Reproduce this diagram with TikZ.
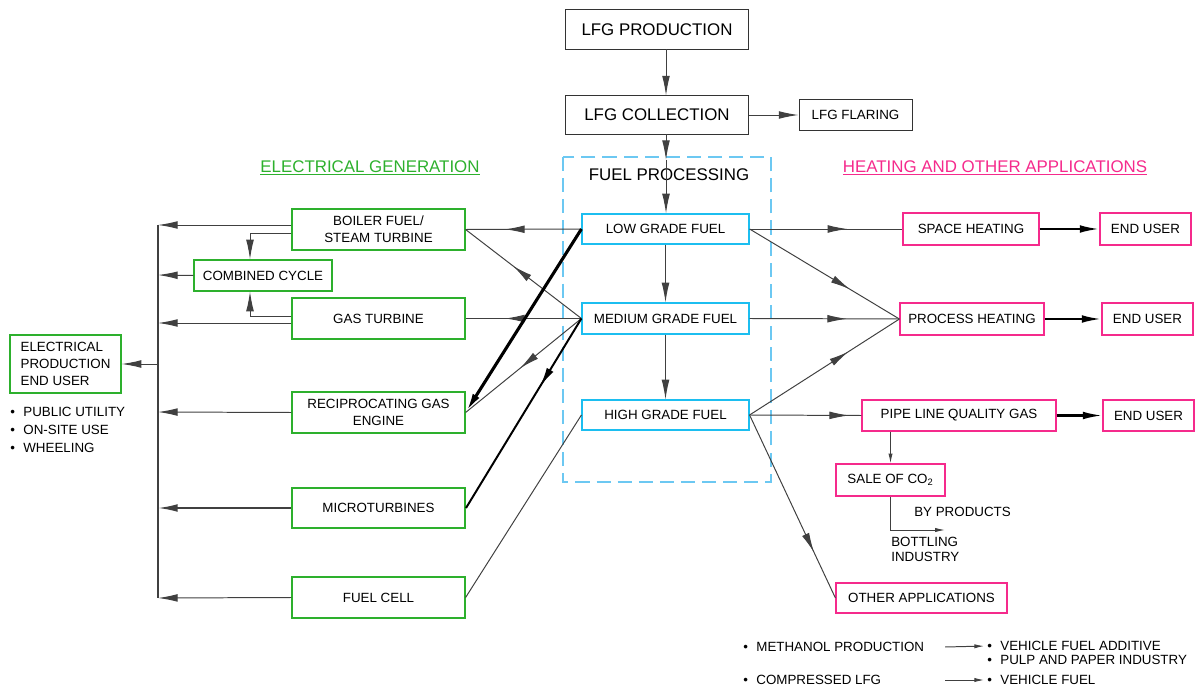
\documentclass[tikz,border=0pt]{standalone}
\usepackage{fontspec}
\setmainfont{Liberation Sans}
\usetikzlibrary{arrows.meta}
\usetikzlibrary{decorations.markings}

\definecolor{genGreen}{HTML}{2DB02D}
\definecolor{heatPink}{HTML}{F52A8C}
\definecolor{fuelCyan}{HTML}{1CBEF0}
\definecolor{procBlue}{HTML}{6CC8F2}

\begin{document}
\begin{tikzpicture}[x=0.025cm, y=-0.025cm,
    box/.style={draw, line width=0.8pt, inner sep=0pt, align=center, font=\fontsize{9.5}{12}\selectfont},
    bigbox/.style={box, line width=0.7pt, font=\fontsize{12}{14}\selectfont},
    genbox/.style={box, draw=genGreen},
    heatbox/.style={box, draw=heatPink},
    fuelbox/.style={box, draw=fuelCyan},
    tip/.style={-{Latex[length=14pt,width=5.5pt]}},
    smalltip/.style={-{Latex[length=7pt,width=3pt]}},
    flow/.style={draw=black!75, line width=0.7pt},
    midtip/.style={postaction={decorate, decoration={markings,
        mark=at position #1 with {\arrow{Latex[length=14pt,width=5.5pt]}}}}},
    lbl/.style={anchor=west, inner sep=0pt, font=\fontsize{9.5}{11}\selectfont},
    heading/.style={inner sep=0pt, font=\fontsize{12}{14}\selectfont}
  ]
  \useasboundingbox (0,0) rectangle (1196,688);

  % Gas supply chain
  \node[bigbox, draw=black!80, minimum width=4.55cm, minimum height=0.975cm] (prod) at (657,29.5) {LFG PRODUCTION};
  \node[bigbox, draw=black!80, minimum width=4.55cm, minimum height=0.95cm] (coll) at (657,115) {LFG COLLECTION};
  \node[box, line width=0.7pt, draw=black!80, minimum width=2.825cm, minimum height=0.75cm] (flare) at (855.5,115) {LFG FLARING};

  % Fuel processing block
  \draw[procBlue, line width=1pt, dash pattern=on 10pt off 5pt] (563,157) rectangle (771,482);
  \node[heading] (fproc) at (669,175) {FUEL PROCESSING};
  \node[fuelbox, minimum width=4.175cm, minimum height=0.75cm] (low) at (665.5,229) {LOW GRADE FUEL};
  \node[fuelbox, minimum width=4.175cm, minimum height=0.775cm] (med) at (665.5,318.5) {MEDIUM GRADE FUEL};
  \node[fuelbox, minimum width=4.175cm, minimum height=0.75cm] (high) at (665.5,415) {HIGH GRADE FUEL};

  % Headings
  \node[heading, text=genGreen] (elecgen) at (370,168) {\underline{ELECTRICAL GENERATION}};
  \node[heading, text=heatPink] (heatapp) at (995,168) {\underline{HEATING AND OTHER APPLICATIONS}};

  % Electrical generation
  \node[genbox, minimum width=4.325cm, minimum height=1.025cm] (boiler) at (378.5,229.5) {BOILER FUEL/\\STEAM TURBINE};
  \node[genbox, minimum width=3.45cm, minimum height=0.775cm] (combined) at (263,275.5) {COMBINED CYCLE};
  \node[genbox, minimum width=4.325cm, minimum height=1.025cm] (gasturb) at (378.5,318.5) {GAS TURBINE};
  \node[genbox, minimum width=4.325cm, minimum height=1.025cm] (recip) at (378.5,412.5) {RECIPROCATING GAS\\ENGINE};
  \node[genbox, line width=1.4pt, minimum width=4.325cm, minimum height=1.0cm] (micro) at (378.5,508) {MICROTURBINES};
  \node[genbox, minimum width=4.325cm, minimum height=1.025cm] (fuelcell) at (378.5,597.5) {FUEL CELL};
  \node[genbox, align=left, minimum width=2.775cm, minimum height=1.45cm] (elecuser) at (65.5,364) {ELECTRICAL\\PRODUCTION\\END USER};
  \node[lbl] (util) at (10,412) {\textbullet\hspace{6pt}PUBLIC UTILITY};
  \node[lbl] (onsite) at (10,430) {\textbullet\hspace{6pt}ON-SITE USE};
  \node[lbl] (wheel) at (10,448) {\textbullet\hspace{6pt}WHEELING};

  % Heating and other applications
  \node[heatbox, minimum width=3.4cm, minimum height=0.8cm] (space) at (971,229) {SPACE HEATING};
  \node[heatbox, minimum width=2.275cm, minimum height=0.8cm] (eu1) at (1145.5,229) {END USER};
  \node[heatbox, minimum width=3.6cm, minimum height=0.8cm] (process) at (972,319) {PROCESS HEATING};
  \node[heatbox, minimum width=2.275cm, minimum height=0.8cm] (eu2) at (1147.5,319) {END USER};
  \node[heatbox, minimum width=4.85cm, minimum height=0.775cm] (pipe) at (959,415.5) {PIPE LINE QUALITY GAS};
  \node[heatbox, minimum width=2.275cm, minimum height=0.775cm] (eu3) at (1148.5,415.5) {END USER};
  \node[heatbox, minimum width=2.725cm, minimum height=0.8cm] (co2) at (890.5,480) {SALE OF CO\textsubscript{2}};
  \node[heatbox, minimum width=4.275cm, minimum height=0.75cm] (other) at (921.5,598) {OTHER APPLICATIONS};
  \node[lbl] (byprod) at (914,512) {BY PRODUCTS};
  \node[lbl, anchor=north west, align=left, font=\fontsize{9.5}{10.5}\selectfont] (bottling) at (891,537) {BOTTLING\\INDUSTRY};

  % Other uses
  \node[lbl] (meth) at (743,647) {\textbullet\hspace{6pt}METHANOL PRODUCTION};
  \node[lbl] (vfa) at (987,646) {\textbullet\hspace{6pt}VEHICLE FUEL ADDITIVE};
  \node[lbl] (pulp) at (987,660) {\textbullet\hspace{6pt}PULP AND PAPER INDUSTRY};
  \node[lbl] (clfg) at (743,680) {\textbullet\hspace{6pt}COMPRESSED LFG};
  \node[lbl] (vfuel) at (987,680) {\textbullet\hspace{6pt}VEHICLE FUEL};

  % Bus to electrical end user
  \coordinate (b0) at (158,364);
  \coordinate (b1) at (158,225);
  \coordinate (b2) at (158,275);
  \coordinate (b3) at (158,323);
  \coordinate (b4) at (158,412);
  \coordinate (b5) at (158,508);
  \coordinate (b6) at (158,598);
  \coordinate (cc1) at (250,233);
  \coordinate (cc2) at (250,316);
  \coordinate (fp) at (666,160);
  \coordinate (bp) at (945,530);
  \coordinate (m1) at (945,647);
  \coordinate (m2) at (945,680);

  \draw[flow, line width=0.9pt] (b1) -- (b6);
  \draw[flow, tip] (boiler.west |- b1) -- (b1);
  \draw[flow, tip] (combined.west) -- (b2);
  \draw[flow, tip] (gasturb.west |- b3) -- (b3);
  \draw[flow, tip] (recip.west) -- (b4);
  \draw[flow, line width=1.2pt, tip] (micro.west) -- (b5);
  \draw[flow, tip] (fuelcell.west) -- (b6);
  \draw[flow, tip] (b0) -- (elecuser.east);
  \draw[flow, tip] (boiler.west |- cc1) -| (cc1 |- combined.north);
  \draw[flow, tip] (gasturb.west |- cc2) -| (cc2 |- combined.south);

  % Main line
  \draw[flow, tip] (prod.south -| fp) -- (coll.north -| fp);
  \draw[flow, tip] (coll) -- (flare);
  \draw[flow, tip] (coll.south -| fp) -- (fp);
  \draw[flow, tip] (fp) -- (low.north -| fp);
  \draw[flow, tip] (low) -- (med);
  \draw[flow, tip] (med) -- (high);

  % Fuel to generation
  \draw[flow, midtip=0.66] (low.west) -- (boiler.east);
  \draw[flow, midtip=0.59] (med.west) -- (boiler.east);
  \draw[flow, midtip=0.66] (med.west) -- (gasturb.east);
  \draw[flow, midtip=0.53] (med.west) -- (recip.east);
  \draw[black, line width=1.4pt, midtip=0.36] (med.west) -- (micro.east);
  \draw[black, line width=2.2pt, tip] (low.west) -- (recip.east);
  \draw[flow] (high.west) -- (fuelcell.east);

  % Fuel to heating
  \draw[flow, midtip=0.64] (low.east) -- (space.west);
  \draw[flow, midtip=0.67] (low.east) -- (process.west);
  \draw[flow, midtip=0.65] (med.east) -- (process.west);
  \draw[flow, midtip=0.66] (high.east) -- (process.west);
  \draw[flow, midtip=0.89] (high.east) -- (pipe.west);
  \draw[flow, midtip=0.75] (high.east) -- (other.west);
  \draw[black, line width=1.6pt, tip] (space) -- (eu1);
  \draw[black, line width=1.6pt, tip] (process) -- (eu2);
  \draw[black, line width=1.6pt, tip] (pipe) -- (eu3);
  \draw[flow, smalltip] (pipe.south -| co2) -- (co2.north);
  \draw[flow, smalltip] (co2.south) |- (bp);
  \draw[flow, smalltip, shorten >=2pt] (m1) -- (vfa.west);
  \draw[flow, smalltip, shorten >=2pt] (m2) -- (vfuel.west);

\end{tikzpicture}
\end{document}
